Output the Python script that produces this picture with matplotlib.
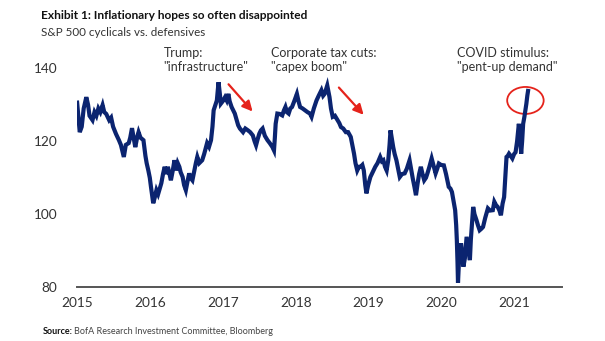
import matplotlib
matplotlib.use("Agg")
import matplotlib.pyplot as plt
from matplotlib import font_manager
from matplotlib.patches import Ellipse
import numpy as np

# prefer a narrow face if the system has one
names = {f.name for f in font_manager.fontManager.ttflist}
FONT = "Liberation Sans Narrow" if "Liberation Sans Narrow" in names else "Lato"
plt.rcParams["font.family"] = [FONT, "DejaVu Sans"]

# ---- data: cyclicals / defensives ratio (years since 2015, index level) ----
t_off = [
    0.004, 0.020, 0.040, 0.067, 0.094, 0.130, 0.154, 0.174, 0.215, 0.242,
    0.268, 0.295, 0.322, 0.353, 0.376, 0.403, 0.443, 0.470, 0.497, 0.537,
    0.577, 0.604, 0.644, 0.671, 0.711, 0.732, 0.756, 0.779, 0.801, 0.826,
    0.846, 0.872, 0.913, 0.940, 0.957, 0.980, 1.000, 1.016, 1.034, 1.047,
    1.067, 1.091, 1.114, 1.158, 1.181, 1.204, 1.228, 1.248, 1.289, 1.315,
    1.338, 1.362, 1.383, 1.405, 1.423, 1.450, 1.470, 1.494, 1.517, 1.540,
    1.557, 1.584, 1.611, 1.631, 1.651, 1.678, 1.718, 1.745, 1.765, 1.785,
    1.812, 1.839, 1.859, 1.875, 1.899, 1.919, 1.942, 1.960, 1.973, 2.000,
    2.031, 2.054, 2.077, 2.094, 2.121, 2.165, 2.188, 2.211, 2.235, 2.278,
    2.309, 2.345, 2.376, 2.412, 2.436, 2.456, 2.477, 2.501, 2.523, 2.546,
    2.577, 2.613, 2.644, 2.681, 2.702, 2.714, 2.725, 2.748, 2.779, 2.815,
    2.839, 2.859, 2.879, 2.903, 2.926, 2.949, 2.980, 3.016, 3.038, 3.060,
    3.094, 3.128, 3.161, 3.195, 3.217, 3.248, 3.285, 3.315, 3.352, 3.376,
    3.396, 3.432, 3.463, 3.483, 3.507, 3.537, 3.574, 3.597, 3.620, 3.651,
    3.687, 3.718, 3.754, 3.776, 3.799, 3.819, 3.843, 3.866, 3.889, 3.913,
    3.933, 3.953, 3.969, 3.993, 4.023, 4.054, 4.090, 4.121, 4.157, 4.181,
    4.201, 4.224, 4.246, 4.268, 4.286, 4.299, 4.315, 4.336, 4.356, 4.380,
    4.403, 4.426, 4.456, 4.493, 4.523, 4.560, 4.584, 4.604, 4.627, 4.648,
    4.671, 4.691, 4.715, 4.738, 4.761, 4.785, 4.805, 4.832, 4.863, 4.893,
    4.917, 4.940, 4.962, 4.993, 5.030, 5.060, 5.097, 5.121, 5.141, 5.164,
    5.185, 5.199, 5.208, 5.217, 5.224, 5.235, 5.248, 5.266, 5.282, 5.298,
    5.319, 5.342, 5.362, 5.373, 5.387, 5.400, 5.416, 5.432, 5.450, 5.477,
    5.497, 5.521, 5.544, 5.567, 5.597, 5.634, 5.664, 5.701, 5.722, 5.745,
    5.768, 5.792, 5.812, 5.835, 5.856, 5.872, 5.889, 5.906, 5.923, 5.946,
    5.969, 5.993, 6.013, 6.034, 6.058, 6.074, 6.090, 6.103, 6.117, 6.134,
    6.148, 6.161, 6.174, 6.184,
]
ratio = [
    130.6, 127.0, 122.5, 124.0, 129.0, 132.1, 130.0, 127.0, 125.8, 128.0,
    127.0, 129.0, 128.0, 129.9, 128.0, 127.5, 125.8, 126.5, 124.0, 122.0,
    120.3, 119.0, 115.7, 119.0, 119.5, 121.0, 123.6, 121.0, 118.4, 121.0,
    122.5, 121.0, 120.3, 116.0, 114.0, 112.0, 110.0, 107.5, 105.0, 103.0,
    104.5, 106.6, 105.5, 108.5, 111.0, 113.0, 111.0, 113.0, 109.3, 112.0,
    114.8, 112.0, 114.0, 113.0, 111.5, 110.2, 108.0, 106.6, 109.0, 111.2,
    110.0, 109.3, 112.0, 114.0, 115.7, 114.0, 114.8, 116.5, 118.0, 119.5,
    118.5, 120.3, 124.0, 128.5, 130.0, 131.2, 136.2, 133.0, 130.3, 131.0,
    132.1, 131.2, 133.0, 131.0, 129.4, 127.6, 126.0, 124.4, 123.5, 122.5,
    123.5, 123.0, 122.5, 121.6, 120.0, 118.9, 120.5, 122.1, 123.0, 123.5,
    121.5, 120.3, 119.5, 118.4, 117.5, 121.0, 124.8, 127.6, 127.5, 127.1,
    128.5, 129.4, 128.0, 127.6, 129.0, 129.4, 131.0, 133.0, 131.0, 129.4,
    129.0, 128.5, 128.0, 127.6, 126.7, 129.0, 131.2, 132.5, 134.0, 132.5,
    133.0, 135.3, 132.1, 129.0, 126.7, 127.0, 125.8, 125.0, 123.9, 123.5,
    122.5, 122.5, 121.2, 119.0, 116.6, 114.0, 112.0, 113.0, 113.0, 113.5,
    112.0, 108.0, 105.7, 108.0, 110.2, 111.5, 113.0, 114.0, 115.7, 114.5,
    114.8, 113.0, 112.0, 114.8, 119.0, 123.0, 121.0, 118.4, 116.5, 114.8,
    112.5, 110.2, 111.0, 111.2, 112.5, 114.8, 112.0, 109.8, 107.5, 105.2,
    108.5, 111.0, 113.0, 111.0, 109.3, 110.0, 111.2, 113.0, 115.3, 113.0,
    111.2, 112.5, 113.9, 113.5, 113.4, 111.0, 107.5, 107.0, 106.1, 103.5,
    101.1, 97.0, 92.9, 87.0, 81.2, 86.0, 90.0, 92.0, 89.0, 85.6,
    88.0, 93.8, 91.0, 89.3, 87.4, 93.0, 97.5, 102.0, 100.0, 98.4,
    97.0, 95.6, 96.0, 96.5, 99.0, 101.6, 101.0, 101.1, 103.4, 102.5,
    102.0, 101.0, 99.7, 102.9, 104.7, 110.0, 115.7, 116.0, 116.6, 116.0,
    115.3, 116.5, 117.0, 120.0, 124.8, 121.0, 116.6, 120.0, 124.8, 126.7,
    128.5, 130.3, 132.5, 133.8,
]
dates = 2015 + np.array(t_off)

years = [2015, 2016, 2017, 2018, 2019, 2020, 2021]
yticks = [80, 100, 120, 140]

NAVY = "#0b2470"
RED = "#e5231b"

fig = plt.figure(figsize=(6.05, 3.41), dpi=100)
ax = fig.add_axes([0.127, 0.158, 0.802, 0.695])

ax.plot(dates, ratio, color=NAVY, lw=3.0, solid_joinstyle="miter")

ax.set_xlim(2015, 2021.65)
ax.set_ylim(80, 145)
ax.set_xticks(years)
ax.set_xticklabels([str(y) for y in years])
ax.set_yticks(yticks)
for s in ["top", "right", "left"]:
    ax.spines[s].set_visible(False)
ax.spines["bottom"].set_color("#555555")
ax.spines["bottom"].set_linewidth(1.4)
ax.tick_params(axis="both", length=0, labelsize=9.8, colors="#333333")
ax.tick_params(axis="x", pad=7)
ax.tick_params(axis="y", pad=14)

# event notes
note_kw = dict(fontsize=9, color="#333333", va="top", ha="left", linespacing=1.2)
ax.text(2016.19, 145.9, 'Trump:\n"infrastructure"', **note_kw)
ax.text(2017.66, 145.9, 'Corporate tax cuts:\n"capex boom"', **note_kw)
ax.text(2020.21, 145.9, 'COVID stimulus:\n"pent-up demand"', **note_kw)

arrow_kw = dict(arrowstyle="-|>,head_length=0.6,head_width=0.3", color=RED, lw=1.6)
ax.annotate("", xy=(2017.434, 127.6), xytext=(2017.054, 136.2), arrowprops=arrow_kw)
ax.annotate("", xy=(2018.956, 126.7), xytext=(2018.566, 135.3), arrowprops=arrow_kw)

ax.add_patch(Ellipse((2021.148, 131.2), 0.5, 7.4, fill=False, ec=RED, lw=1.3))

# headings and source
fig.text(0.068, 0.972, "Exhibit 1: Inflationary hopes so often disappointed",
         fontsize=8.6, fontweight="bold", color="#111111", va="top")
fig.text(0.068, 0.922, "S&P 500 cyclicals vs. defensives",
         fontsize=8.4, color="#333333", va="top")
fig.text(0.071, 0.027, "Source:", fontsize=6.5, fontweight="bold",
         color="#111111", va="center")
fig.text(0.122, 0.027, "BofA Research Investment Committee, Bloomberg",
         fontsize=6.5, color="#444444", va="center")

fig.savefig("out.png", dpi=100)
